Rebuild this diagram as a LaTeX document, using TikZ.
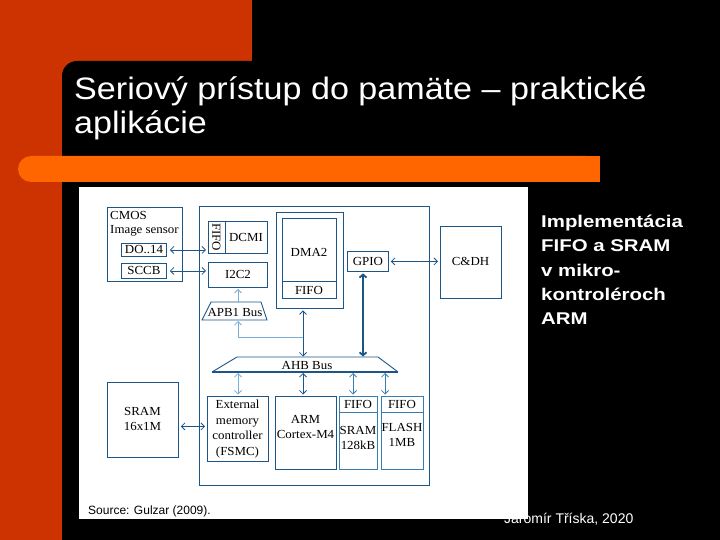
\documentclass[tikz,border=0pt]{standalone}
\usepackage{fontspec}
\setmainfont{Liberation Serif}
\newfontfamily\sansf{Liberation Sans}
\newfontfamily\titlefont[FakeStretch=1.1]{Liberation Sans}
\newfontfamily\sidefont[FakeStretch=1.2]{Liberation Sans}
\newfontfamily\diagfont[FakeStretch=1.05]{Liberation Serif}
\usetikzlibrary{arrows.meta}
\definecolor{slred}{RGB}{204,51,0}
\definecolor{slorange}{RGB}{255,102,0}
\definecolor{dblue}{RGB}{30,85,135}
\definecolor{mblue}{RGB}{55,125,175}
\definecolor{lblue}{RGB}{120,175,215}
\begin{document}
\begin{tikzpicture}[x=1pt,y=-1pt,
  box/.style={draw=dblue, line width=0.9pt, inner sep=0pt, anchor=north west},
  lbl/.style={font=\diagfont\fontsize{12.3}{15.7}\selectfont, text=black, inner sep=0pt, align=center},
  bi/.style={draw=dblue, line width=0.8pt, {Straight Barb[length=3.5pt,width=7pt]}-{Straight Barb[length=3.5pt,width=7pt]}},
  bil/.style={draw=lblue, line width=0.8pt, {Straight Barb[length=3.5pt,width=7pt]}-{Straight Barb[length=3.5pt,width=7pt]}},
  bim/.style={draw=mblue, line width=0.8pt, {Straight Barb[length=3.5pt,width=7pt]}-{Straight Barb[length=3.5pt,width=7pt]}},
  bithick/.style={draw=dblue, line width=1.8pt, {Straight Barb[length=3pt,width=7pt]}-{Straight Barb[length=3pt,width=7pt]}},
  upl/.style={draw=lblue, line width=0.8pt, -{Straight Barb[length=3.5pt,width=7pt]}},
  wtext/.style={text=white, inner sep=0pt, anchor=base west}
]
\useasboundingbox (0,0) rectangle (720,540);
% slide background
\fill[slred] (0,0) rectangle (720,540);
\fill[black, rounded corners=15pt] (62,61) rectangle (720,540);
\fill[black] (62,120) rectangle (720,540);
\fill[black] (120,61) rectangle (720,540);
\fill[black] (252,0) rectangle (720,100);
\fill[slorange, rounded corners=13pt] (18,156) rectangle (600,182);
\fill[slorange] (60,156) rectangle (600,182);
% title
\node[wtext, font=\titlefont\fontsize{31}{34}\selectfont] (t1) at (74,100) {Seriový prístup do pamäte – praktické};
\node[wtext, font=\titlefont\fontsize{31}{34}\selectfont] (t2) at (74,134) {aplikácie};
% side text
\node[wtext, font=\sidefont\bfseries\fontsize{17}{20}\selectfont] (s1) at (541,227) {Implementácia};
\node[wtext, font=\sidefont\bfseries\fontsize{17}{20}\selectfont] (s2) at (541,251.5) {FIFO a SRAM};
\node[wtext, font=\sidefont\bfseries\fontsize{17}{20}\selectfont] (s3) at (541,276) {v mikro-};
\node[wtext, font=\sidefont\bfseries\fontsize{17}{20}\selectfont] (s4) at (541,300.5) {kontroléroch};
\node[wtext, font=\sidefont\bfseries\fontsize{17}{20}\selectfont] (s5) at (541,324) {ARM};
% footer
\node[wtext, font=\sansf\fontsize{14}{16}\selectfont] (foot) at (504,523) {Jaromír Tříska, 2020};
% white picture
\fill[white] (79,187) rectangle (528,519);
\node[anchor=base west, inner sep=0pt, font=\sansf\fontsize{12}{14}\selectfont] (src) at (88,514) {Source: Gulzar (2009).};
% boxes
\node[box, minimum width=230pt, minimum height=279pt] (main) at (199,206) {};
\node[box, minimum width=75pt, minimum height=74pt] (cmos) at (107,207) {};
\node[lbl, anchor=west] (cmost) at (110,215) {CMOS};
\node[lbl, anchor=west] (imgt) at (110,231) {Image sensor};
\node[box, minimum width=45pt, minimum height=13pt] (do14) at (121,243) {};
\node[lbl] at (do14.center) {DO..14};
\node[box, minimum width=45pt, minimum height=15pt] (sccb) at (121,263) {};
\node[lbl] at (sccb.center) {SCCB};
\node[box, minimum width=59pt, minimum height=32pt] (dcmi) at (208,221) {};
\draw[dblue, line width=0.9pt] (225,221) -- (225,253);
\node[lbl, rotate=-90] (dfifo) at (216.5,237) {FIFO};
\node[lbl] (dcmit) at (246,237) {DCMI};
\node[box, minimum width=59pt, minimum height=25pt] (i2c2) at (208,262) {};
\node[lbl] at (i2c2.center) {I2C2};
\node[box, minimum width=67pt, minimum height=96pt] (dmaout) at (276,212) {};
\node[box, minimum width=54pt, minimum height=80pt] (dmain) at (282,218) {};
\draw[dblue, line width=0.9pt] (282,281) -- (336,281);
\node[lbl] (dmat) at (309,252) {DMA2};
\node[lbl] (dmafifo) at (309,290) {FIFO};
\node[box, minimum width=41pt, minimum height=20pt] (gpio) at (347,251) {};
\node[lbl] at (gpio.center) {GPIO};
\node[box, minimum width=61pt, minimum height=72pt] (cdh) at (440,226) {};
\node[lbl] at (470.5,261) {C\&DH};
\node[box, minimum width=71pt, minimum height=75pt] (sram16) at (107,382) {};
\node[lbl] at (142.5,419) {SRAM\\16x1M};
\node[box, minimum width=61pt, minimum height=65pt] (ext) at (207,396) {};
\node[lbl] at (237.5,429) {External\\memory\\controller\\(FSMC)};
\node[box, minimum width=61pt, minimum height=73pt] (arm) at (275,396) {};
\node[lbl] at (305.5,427) {ARM\\Cortex-M4};
\node[box, draw=mblue, minimum width=38pt, minimum height=73pt] (sram) at (339,396) {};
\draw[mblue, line width=0.9pt] (339,412) -- (377,412);
\node[lbl] at (358,404) {FIFO};
\node[lbl] at (358,438) {SRAM\\128kB};
\node[box, draw=mblue, minimum width=42pt, minimum height=73pt] (flash) at (381,396) {};
\draw[mblue, line width=0.9pt] (381,412) -- (423,412);
\node[lbl] at (402,404) {FIFO};
\node[lbl] at (402,435) {FLASH\\1MB};
% buses
\draw[dblue, line width=0.9pt] (202,320) -- (211,302) -- (261,302) -- (267,320) -- cycle;
\node[lbl] (apbt) at (235,312) {APB1 Bus};
\draw[dblue, line width=0.9pt] (212,372) -- (237,357) -- (378,357) -- (398,372);
\draw[dblue, line width=1.6pt] (212,372) -- (398,372);
\node[lbl] (ahbt) at (307,365) {AHB Bus};
\coordinate (apbtop) at (238,302);
\coordinate (apbbot) at (238,321);
\coordinate (jn) at (238,337);
\coordinate (ahbtopd) at (303,356.5);
\coordinate (ahbtopg) at (363,356.5);
\coordinate (ahbb1) at (238,373);
\coordinate (ahbb2) at (303,373);
\coordinate (ahbb3) at (353,373);
\coordinate (ahbb4) at (385,373);
% connectors
\draw[bi] ([xshift=3pt]do14.east) -- ([xshift=-2pt]do14.east -| dcmi.west);
\draw[bi] ([xshift=3pt]sccb.east) -- ([xshift=-2pt]sccb.east -| i2c2.west);
\draw[bi] ([xshift=2pt]gpio.east) -- ([xshift=-2pt]gpio.east -| cdh.west);
\draw[bi] ([xshift=2pt,yshift=2.5pt]sram16.east |- ext.west) -- ([xshift=-2pt,yshift=2.5pt]ext.west);
\draw[upl] (apbtop) -- ([yshift=-1pt]apbtop |- i2c2.south);
\draw[upl] (jn) -- (apbbot);
\draw[lblue, line width=0.8pt] (jn) -- (jn -| ahbtopd);
\draw[bi] (ahbtopd) -- ([yshift=-1.5pt]ahbtopd |- dmaout.south);
\draw[bithick] (ahbtopg) -- ([yshift=-1.5pt]ahbtopg |- gpio.south);
\draw[bil] (ahbb1) -- ([yshift=1.5pt]ahbb1 |- ext.north);
\draw[bi] (ahbb2) -- ([yshift=1.5pt]ahbb2 |- arm.north);
\draw[bim] (ahbb3) -- ([yshift=1.5pt]ahbb3 |- sram.north);
\draw[bim] (ahbb4) -- ([yshift=1.5pt]ahbb4 |- flash.north);
\end{tikzpicture}
\end{document}
